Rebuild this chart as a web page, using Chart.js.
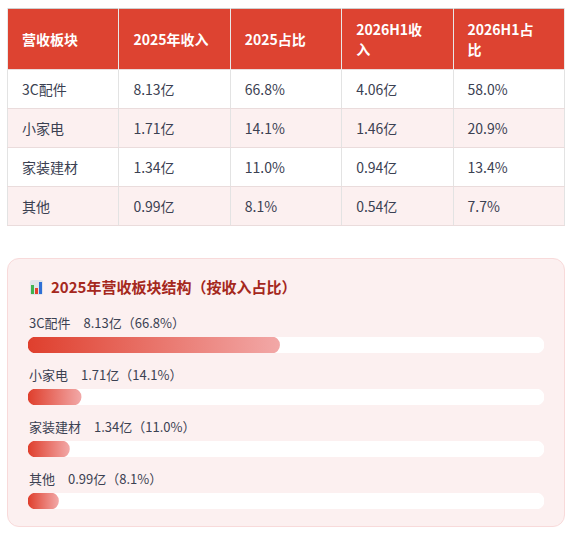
<!DOCTYPE html>
<html lang="zh-CN">
<head>
<meta charset="utf-8">
<title>营收板块结构</title>
<script src="https://cdn.jsdelivr.net/npm/chart.js@4.4.1/dist/chart.umd.min.js"></script>
<style>
  html, body { margin: 0; padding: 0; background: #fff; }
  body {
    font-family: "Noto Sans CJK SC", "Noto Sans", sans-serif;
    color: #3b4152;
    width: 571px;
  }
  .wrap { margin: 8px 0 0 7px; width: 558px; }
  table {
    width: 558px;
    border-collapse: collapse;
    table-layout: fixed;
    font-size: 14px;
    border-top: 1px solid #cfcfcf;
  }
  th {
    background: #dd4331;
    color: #fff;
    font-weight: 700;
    text-align: left;
    padding: 10px 20px 10px 14px;
    line-height: 20px;
    height: 40px;
    border-left: 1px solid #e8e8e8;
    border-right: 1px solid #e8e8e8;
  }
  td {
    padding: 9px 14px 9px 14px;
    line-height: 20px;
    border: 1px solid #eadcdc;
    border-left-color: #e3e3e3;
    border-right-color: #e3e3e3;
  }
  tbody tr:nth-child(even) td { background: #fcf0f0; }
  .card {
    margin-top: 32px;
    background: #fcf0f0;
    border: 1px solid #f8dada;
    border-radius: 12px;
    padding: 18px 20px 17px 20px;
    box-sizing: border-box;
    width: 558px;
  }
  .title {
    font-size: 15px;
    font-weight: 700;
    color: #a5281d;
    line-height: 20px;
    margin: 0 0 16px 2px;
    display: flex;
    align-items: center;
  }
  .icon {
    display: inline-flex;
    align-items: flex-end;
    gap: 1px;
    width: 13px;
    height: 15px;
    padding: 1px;
    background: #dfe3e8;
    border-radius: 2px;
    margin-right: 8px;
    box-sizing: border-box;
  }
  .icon i { display: block; width: 3px; }
  .row-label { font-size: 13px; line-height: 20px; margin: 0 0 4px 1px; }
  .row-label .val { margin-left: 13px; }
  .bar { position: relative; height: 16px; width: 516px; margin-bottom: 12px; }
  .bar:last-child { margin-bottom: 0; }
</style>
</head>
<body>
<div class="wrap">
  <table id="tbl">
    <thead><tr id="head"></tr></thead>
    <tbody id="body"></tbody>
  </table>

  <div class="card">
    <div class="title">
      <span class="icon" aria-hidden="true"><i style="height:9px;background:#3fb34f"></i><i style="height:6px;background:#e2412f"></i><i style="height:12px;background:#2f6fd6"></i></span>
      2025年营收板块结构（按收入占比）
    </div>
    <div id="rows"></div>
  </div>
</div>

<script>
// table + bar data
const headers = ['营收板块', '2025年收入', '2025占比', '2026H1收入', '2026H1占比'];
const segments = ['3C配件', '小家电', '家装建材', '其他'];
const revenue2025 = [8.13, 1.71, 1.34, 0.99];   // 亿
const share2025 = [66.8, 14.1, 11.0, 8.1];      // %
const revenueH1 = [4.06, 1.46, 0.94, 0.54];     // 亿
const shareH1 = [58.0, 20.9, 13.4, 7.7];        // %

// bar track spans 0..SCALE_MAX
const SCALE_MAX = 137;

const yi = v => v.toFixed(2) + '亿';
const pct = v => v.toFixed(1) + '%';

// table
const head = document.getElementById('head');
headers.forEach(h => {
  const th = document.createElement('th');
  th.textContent = h;
  head.appendChild(th);
});
const body = document.getElementById('body');
segments.forEach((s, i) => {
  const tr = document.createElement('tr');
  [s, yi(revenue2025[i]), pct(share2025[i]), yi(revenueH1[i]), pct(shareH1[i])].forEach(t => {
    const td = document.createElement('td');
    td.textContent = t;
    tr.appendChild(td);
  });
  body.appendChild(tr);
});

// bars
const rows = document.getElementById('rows');

function barGradient(context) {
  const chart = context.chart;
  if (!chart.chartArea) return '#e0402f';
  const x = chart.scales.x;
  const x0 = x.getPixelForValue(0);
  const x1 = x.getPixelForValue(context.raw);
  const g = chart.ctx.createLinearGradient(x0, 0, x1, 0);
  g.addColorStop(0, '#df3f2d');
  g.addColorStop(1, '#f2a8a7');
  return g;
}

segments.forEach((s, i) => {
  const label = document.createElement('div');
  label.className = 'row-label';
  label.innerHTML = s + '<span class="val">' + yi(revenue2025[i]) + '（' + pct(share2025[i]) + '）</span>';
  rows.appendChild(label);

  const box = document.createElement('div');
  box.className = 'bar';
  const canvas = document.createElement('canvas');
  box.appendChild(canvas);
  rows.appendChild(box);

  new Chart(canvas, {
    type: 'bar',
    data: {
      labels: [s],
      datasets: [
        {
          data: [share2025[i]],
          backgroundColor: barGradient,
          borderRadius: 8,
          borderSkipped: false,
          grouped: false,
          order: 0
        },
        {
          data: [SCALE_MAX],
          backgroundColor: '#ffffff',
          borderRadius: 8,
          borderSkipped: false,
          grouped: false,
          order: 1
        }
      ]
    },
    options: {
      indexAxis: 'y',
      responsive: true,
      maintainAspectRatio: false,
      animation: false,
      barPercentage: 1,
      categoryPercentage: 1,
      layout: { padding: 0 },
      plugins: { legend: { display: false }, tooltip: { enabled: false } },
      scales: {
        x: { display: false, min: 0, max: SCALE_MAX },
        y: { display: false }
      }
    }
  });
});
</script>
</body>
</html>
